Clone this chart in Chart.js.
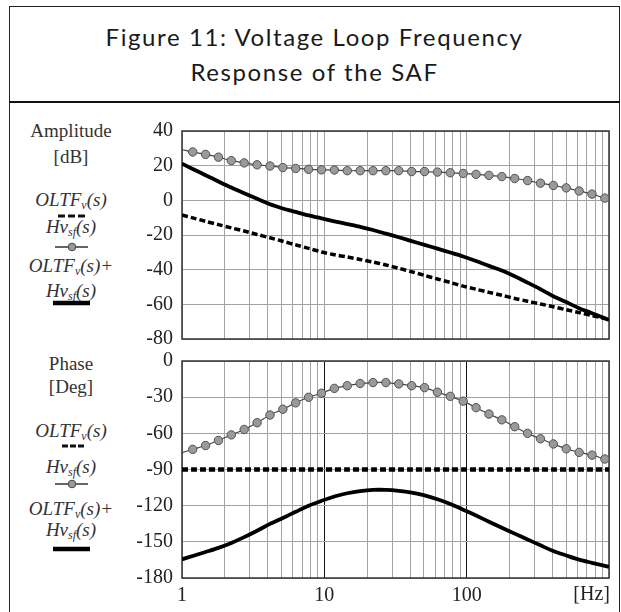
<!DOCTYPE html>
<html><head><meta charset="utf-8">
<script src="https://cdn.jsdelivr.net/npm/chart.js@4.4.0/dist/chart.umd.min.js"></script>
<style>
html,body{margin:0;padding:0;background:#fff;width:621px;height:612px;overflow:hidden;position:relative;font-family:"Liberation Serif",serif;}
#frame{position:absolute;left:9px;top:6px;width:611px;height:640px;border:1.5px solid #222;box-sizing:border-box;}
#tline{position:absolute;left:9px;top:101px;width:611px;height:0;border-top:2.5px solid #111;}
#title{position:absolute;left:10px;width:609px;top:19px;text-align:center;font-family:Lato,sans-serif;font-weight:400;font-size:24px;line-height:35px;color:#1a1a1a;letter-spacing:1.6px;}
.lg{position:absolute;left:1px;width:140px;text-align:center;font-size:19px;line-height:19px;color:#333;white-space:nowrap;}
.it{font-style:italic}
.it sub{font-size:12px;vertical-align:-3px;line-height:0}
canvas{position:absolute;left:0}
#samples{position:absolute;left:0;top:0}
</style></head>
<body>
<div id="frame"></div>
<div id="tline"></div>
<div id="title">Figure 11: Voltage Loop Frequency<br>Response of the SAF</div>

<div class="lg" style="top:121px">Amplitude</div>
<div class="lg" style="top:147px">[dB]</div>
<div class="lg it" style="top:190px">OLTF<sub>v</sub>(s)</div>
<div class="lg it" style="top:217px">Hv<sub>sf</sub>(s)</div>
<div class="lg it" style="top:256px">OLTF<sub>v</sub>(s)+</div>
<div class="lg it" style="top:281px">Hv<sub>sf</sub>(s)</div>

<div class="lg" style="top:354px">Phase</div>
<div class="lg" style="top:377px">[Deg]</div>
<div class="lg it" style="top:421px">OLTF<sub>v</sub>(s)</div>
<div class="lg it" style="top:457px">Hv<sub>sf</sub>(s)</div>
<div class="lg it" style="top:499px">OLTF<sub>v</sub>(s)+</div>
<div class="lg it" style="top:520px">Hv<sub>sf</sub>(s)</div>

<svg id="samples" width="180" height="612">
  <line x1="58" y1="216" x2="87" y2="216" stroke="#111" stroke-width="3" stroke-dasharray="7 3"/>
  <line x1="55" y1="247" x2="88" y2="247" stroke="#333" stroke-width="1.3"/>
  <circle cx="72" cy="247" r="3.8" fill="#9a9a9a" stroke="#444" stroke-width="1"/>
  <line x1="53" y1="303" x2="90" y2="303" stroke="#000" stroke-width="4.5"/>
  <line x1="62" y1="446" x2="85" y2="446" stroke="#111" stroke-width="3" stroke-dasharray="6 2"/>
  <line x1="55" y1="484" x2="88" y2="484" stroke="#333" stroke-width="1.3"/>
  <circle cx="72" cy="484" r="3.8" fill="#9a9a9a" stroke="#444" stroke-width="1"/>
  <line x1="53" y1="549" x2="90" y2="549" stroke="#000" stroke-width="4.5"/>
</svg>

<canvas id="amp" width="621" height="250" style="top:110px"></canvas>
<canvas id="ph" width="621" height="272" style="top:340px"></canvas>

<script>
// ---- data ----
const freqs = [1, 1.189, 1.464, 1.803, 2.221, 2.735, 3.369, 4.150, 5.111, 6.295, 7.753, 9.550, 11.76, 14.49, 17.85, 21.98, 27.07, 33.34, 41.07, 50.58, 62.30, 76.74, 94.52, 116.4, 143.4, 176.6, 217.5, 267.9, 330.0, 406.4, 500.6, 616.6, 759.5, 935.4, 1000];
const ampOltf = [-8.5, -10.1, -12.1, -14.0, -15.9, -17.7, -19.7, -21.6, -23.6, -25.7, -27.7, -29.8, -31.4, -32.7, -34.1, -35.6, -37.3, -39.2, -41.2, -43.3, -45.4, -47.4, -49.5, -51.3, -53.1, -54.8, -56.6, -58.2, -59.8, -61.4, -63.1, -64.8, -66.5, -68.2, -68.5];
const ampHv = [29.2, 27.9, 26.5, 24.9, 22.9, 21.6, 20.5, 19.8, 18.9, 18.4, 17.9, 17.6, 17.5, 17.1, 17.1, 17.1, 17.1, 17.1, 16.6, 16.6, 16.3, 15.9, 15.5, 15.0, 14.4, 13.7, 12.6, 11.4, 9.9, 8.6, 7.2, 5.4, 3.6, 1.3, 0.8];
const ampSum = [21.1, 18.1, 14.5, 10.9, 7.4, 4.1, 0.9, -2.3, -4.7, -6.7, -8.7, -10.4, -12.1, -13.7, -15.3, -17.1, -19.2, -21.3, -23.5, -25.7, -27.9, -30.1, -32.4, -35.0, -37.8, -40.5, -43.8, -47.5, -51.3, -55.3, -58.7, -62.2, -65.1, -68.0, -69.0];
const phOltf = [-90, -90, -90, -90, -90, -90, -90, -90, -90, -90, -90, -90, -90, -90, -90, -90, -90, -90, -90, -90, -90, -90, -90, -90, -90, -90, -90, -90, -90, -90, -90, -90, -90, -90, -90];
const phHv = [-76, -73.3, -70.1, -65.9, -61.3, -56.8, -51.2, -44.8, -40.0, -34.7, -30.1, -26.7, -22.7, -20.5, -18.7, -17.9, -17.9, -19.0, -20.5, -22.1, -25.9, -29.3, -33.3, -38.7, -44.0, -48.8, -54.5, -60.0, -64.5, -68.8, -72.8, -75.8, -78.1, -81.3, -82.0];
const phSum = [-164.5, -161.7, -158.4, -155.0, -150.9, -146.1, -140.8, -135.1, -130.2, -125.1, -120.0, -116.0, -112.4, -109.7, -107.9, -106.9, -106.9, -107.7, -109.2, -111.5, -114.7, -118.6, -123.3, -128.2, -133.3, -138.3, -143.2, -148.0, -152.9, -157.6, -161.3, -164.8, -167.4, -169.9, -170.7];
const xGridTicks = [1,2,3,4,5,6,7,8,9,10,20,30,40,50,60,70,80,90,100,200,300,400,500,600,700,800,900,1000];
const xLabelTicks = [1, 10, 100];
const ampRange = {min: -80, max: 40, step: 20};
const phRange = {min: -180, max: 0, step: 30};

const pts = arr => freqs.map((f, i) => ({x: f, y: arr[i]}));
const lastIdx = freqs.length - 1;

const frameBox = {
  id: 'frameBox',
  beforeDatasetsDraw(chart) {
    const a = chart.chartArea, c = chart.ctx;
    c.save(); c.strokeStyle = '#333'; c.lineWidth = 1.5;
    c.strokeRect(a.left, a.top, a.right - a.left, a.bottom - a.top);
    c.restore();
  }
};
const hzLabel = {
  id: 'hzLabel',
  afterDraw(chart) {
    const a = chart.chartArea, c = chart.ctx;
    c.save(); c.fillStyle = '#222'; c.font = '20px "Liberation Serif"';
    c.textAlign = 'right'; c.textBaseline = 'middle';
    c.fillText('[Hz]', a.right + 1, a.bottom + 17);
    c.restore();
  }
};

function datasets(oltf, hv, sum, dashW) {
  return [
    {data: pts(sum), borderColor: '#000', borderWidth: 3.8, pointRadius: 0, tension: 0.3},
    {data: pts(oltf), borderColor: '#000', borderWidth: dashW, borderDash: [6, 3], pointRadius: 0, tension: 0.3},
    {data: pts(hv), borderColor: '#444', borderWidth: 1.2, tension: 0.3,
     pointRadius: c => (c.dataIndex === 0 || c.dataIndex === lastIdx) ? 0 : 4.2,
     pointBackgroundColor: '#9a9a9a', pointBorderColor: '#505050', pointBorderWidth: 1}
  ];
}

function makeChart(id, ds, range, showX, darkDecades, pad) {
  return new Chart(document.getElementById(id), {
    type: 'line',
    data: {datasets: ds},
    plugins: showX ? [frameBox, hzLabel] : [frameBox],
    options: {
      responsive: false, animation: false, devicePixelRatio: 1,
      layout: {padding: pad},
      plugins: {legend: {display: false}, tooltip: {enabled: false}},
      scales: {
        x: {
          type: 'logarithmic', min: 1, max: 1000,
          afterBuildTicks: s => { s.ticks = xGridTicks.map(v => ({value: v})); },
          afterFit: s => { s.height = showX ? 34 : 0; },
          border: {display: false},
          grid: {drawTicks: false, lineWidth: 1,
                 color: c => (darkDecades && c.tick && (c.tick.value === 10 || c.tick.value === 100)) ? '#111' : '#a3a3a3'},
          ticks: {display: showX, autoSkip: false, maxRotation: 0, padding: 6, color: '#222',
                  font: {family: 'Liberation Serif', size: 20},
                  callback: v => xLabelTicks.includes(v) ? String(v) : ''}
        },
        y: {
          min: range.min, max: range.max,
          afterFit: s => { s.width = 182; },
          border: {display: false},
          grid: {drawTicks: false, color: '#a3a3a3', lineWidth: 1},
          ticks: {stepSize: range.step, padding: 9, color: '#222',
                  font: {family: 'Liberation Serif', size: 20}}
        }
      }
    }
  });
}

makeChart('amp', datasets(ampOltf, ampHv, ampSum, 3.5), ampRange, false, false, {top: 15, bottom: 13, right: 12, left: 0});
makeChart('ph', datasets(phOltf, phHv, phSum, 4.5), phRange, true, true, {top: 13, bottom: 0, right: 12, left: 0});
</script>
</body></html>
